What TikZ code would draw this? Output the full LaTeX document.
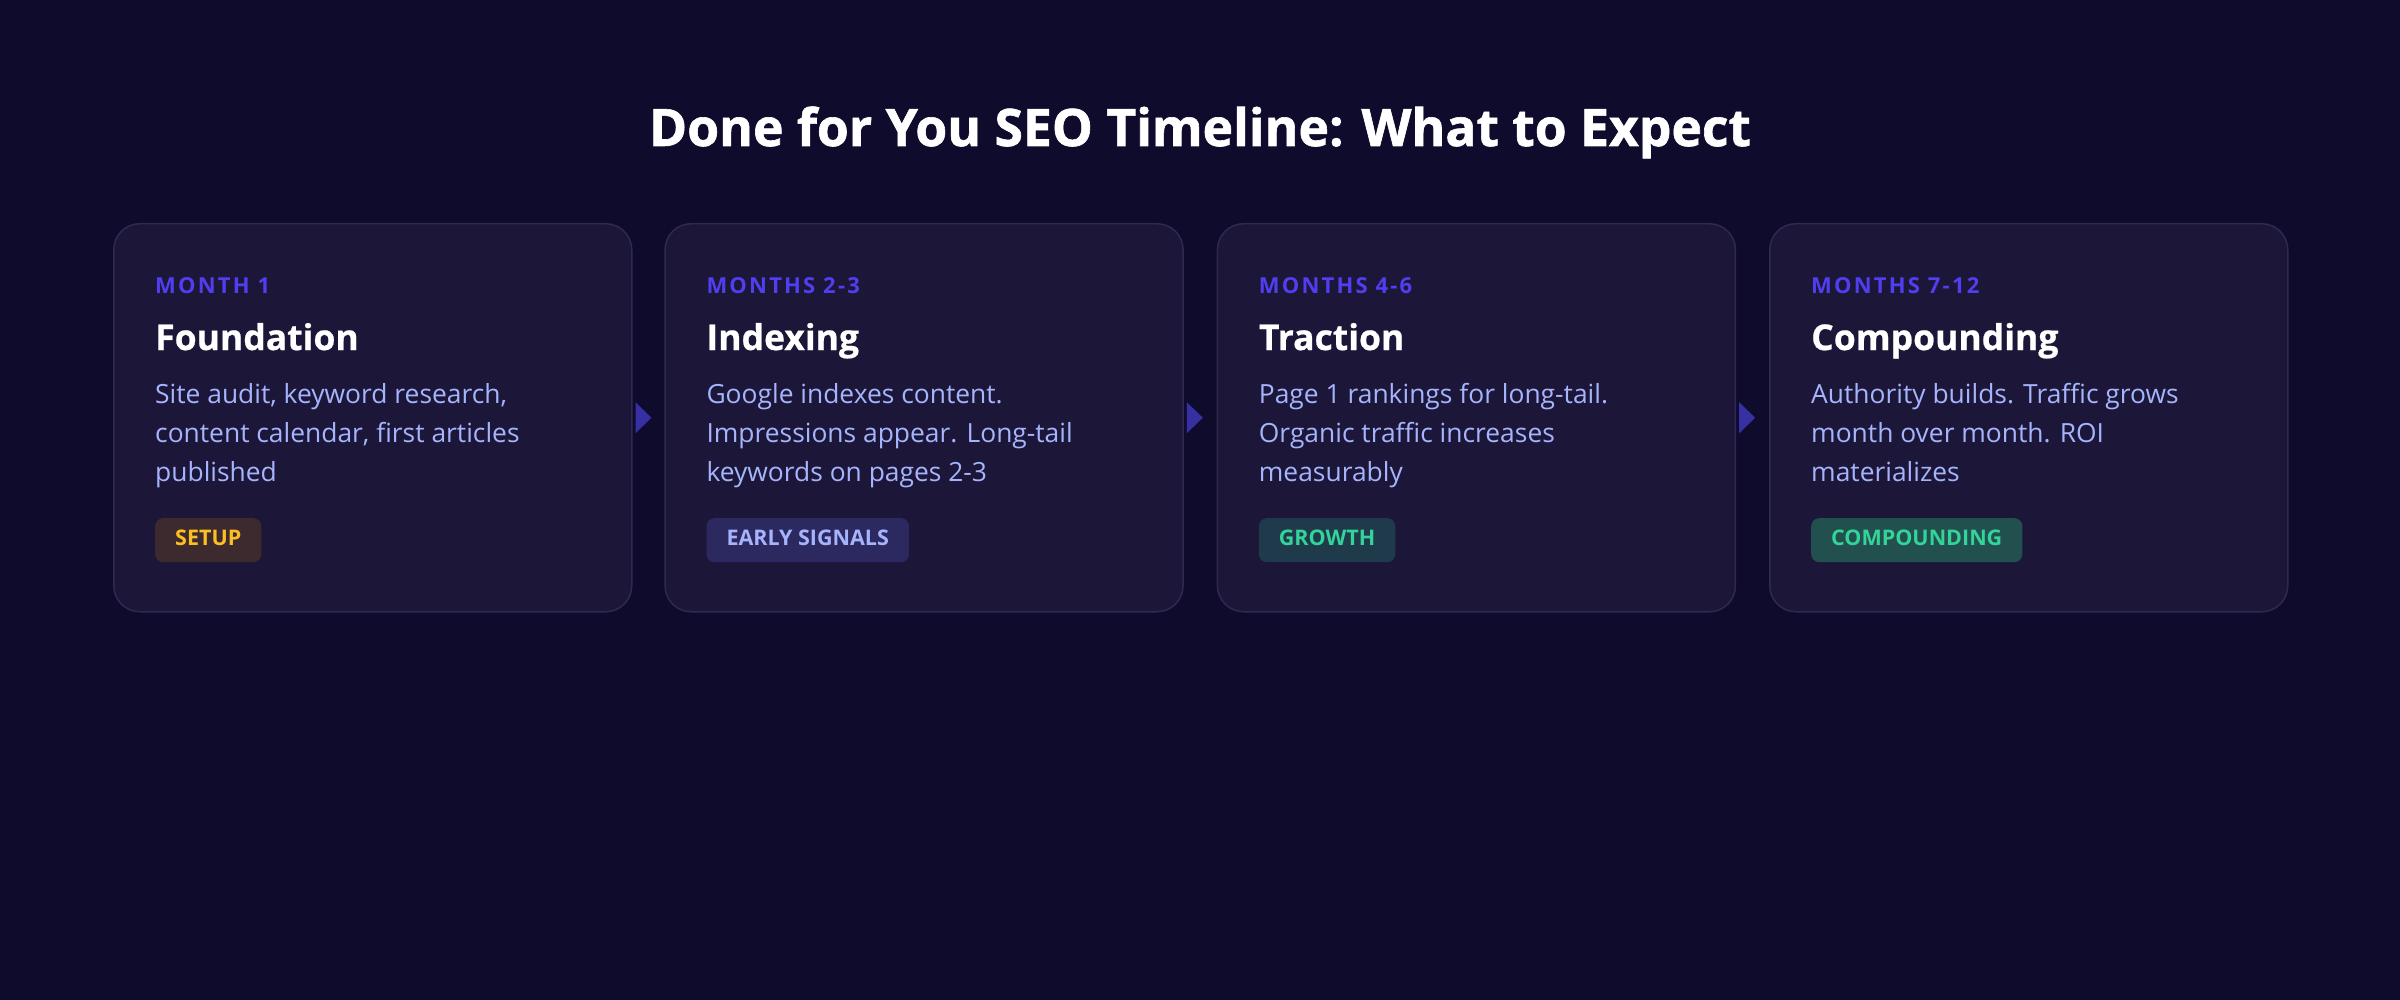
\documentclass[tikz,border=0pt]{standalone}
\usepackage{fontspec}
\setmainfont{Open Sans}
\newfontfamily\heavyfont{Open Sans}[BoldFeatures={FakeBold=1.2}]
\newfontfamily\semiheavyfont{Open Sans}[BoldFeatures={FakeBold=0.6}]
\definecolor{bgc}{HTML}{0F0B2D}
\definecolor{cardbg}{HTML}{1C1739}
\definecolor{cardline}{HTML}{2E2950}
\definecolor{monthc}{HTML}{503EF0}
\definecolor{descc}{HTML}{A5B4FC}
\definecolor{arrowc}{HTML}{3730A3}
\definecolor{setupbg}{HTML}{3D2A2F}
\definecolor{setupfg}{HTML}{FBBF24}
\definecolor{earlybg}{HTML}{2C2960}
\definecolor{earlyfg}{HTML}{A5B4FC}
\definecolor{growbg}{HTML}{1F3A4A}
\definecolor{growfg}{HTML}{34D399}
\definecolor{compbg}{HTML}{22504F}
\definecolor{compfg}{HTML}{34D399}
\tikzset{
  cardbox/.style={draw=cardline, line width=1.5pt, fill=cardbg, rounded corners=26pt,
    minimum width=518pt, minimum height=388pt, inner sep=0pt, anchor=north west},
  monthtxt/.style={anchor=base west, inner sep=0pt, text=monthc,
    font=\fontsize{22}{26}\selectfont\bfseries\addfontfeature{LetterSpace=10}},
  headtxt/.style={anchor=base west, inner sep=0pt, text=white,
    font=\fontsize{35.5}{42}\selectfont\semiheavyfont\bfseries},
  desctxt/.style={anchor=base west, inner sep=0pt, text=descc,
    font=\fontsize{26.4}{39}\selectfont},
  tagbox/.style={anchor=north west, rounded corners=8pt, minimum height=44pt,
    inner xsep=20pt, inner ysep=0pt, font=\fontsize{21.5}{25}\selectfont\bfseries},
  arrowtri/.style={fill=arrowc, draw=none}
}
\newcommand\mycard[9]{%
  \node[cardbox] (card#1) at (#2,223) {};
  \node[monthtxt] (month#1) at ([xshift=42pt]#2,294) {#3};
  \node[headtxt] (head#1) at ([xshift=42pt]#2,350) {#4};
  \node[desctxt] (desca#1) at ([xshift=42pt]#2,403) {#5};
  \node[desctxt] (descb#1) at ([xshift=42pt]#2,442) {#6};
  \node[desctxt] (descc#1) at ([xshift=42pt]#2,481) {#7};
  \node[tagbox, fill=#9bg, text=#9fg] (tag#1) at ([xshift=42pt]#2,518) {\vphantom{Ag}#8};
}
\begin{document}
\begin{tikzpicture}[x=1pt,y=-1pt]
\fill[bgc] (0,0) rectangle (2400,1000);
\useasboundingbox (0,0) rectangle (2400,1000);
\node[anchor=base, inner sep=0pt, text=white, font=\fontsize{51.6}{62}\selectfont\heavyfont\bfseries] (title) at (1200,146) {Done for You SEO Timeline: What to Expect};
\mycard{1}{113}{MONTH 1}{Foundation}{Site audit, keyword research,}{content calendar, first articles}{published}{SETUP}{setup}
\mycard{2}{664.3}{MONTHS 2-3}{Indexing}{Google indexes content.}{Impressions appear. Long-tail}{keywords on pages 2-3}{EARLY SIGNALS}{early}
\mycard{3}{1216.7}{MONTHS 4-6}{Traction}{Page 1 rankings for long-tail.}{Organic traffic increases}{measurably}{GROWTH}{grow}
\mycard{4}{1769}{MONTHS 7-12}{Compounding}{Authority builds. Traffic grows}{month over month. ROI}{materializes}{COMPOUNDING}{comp}
\foreach \i in {1,2,3}{
  \fill[arrowtri] ([xshift=3pt,yshift=15.5pt]card\i.east) -- ([xshift=19pt]card\i.east) -- ([xshift=3pt,yshift=-15.5pt]card\i.east) -- cycle;
}
\end{tikzpicture}
\end{document}
